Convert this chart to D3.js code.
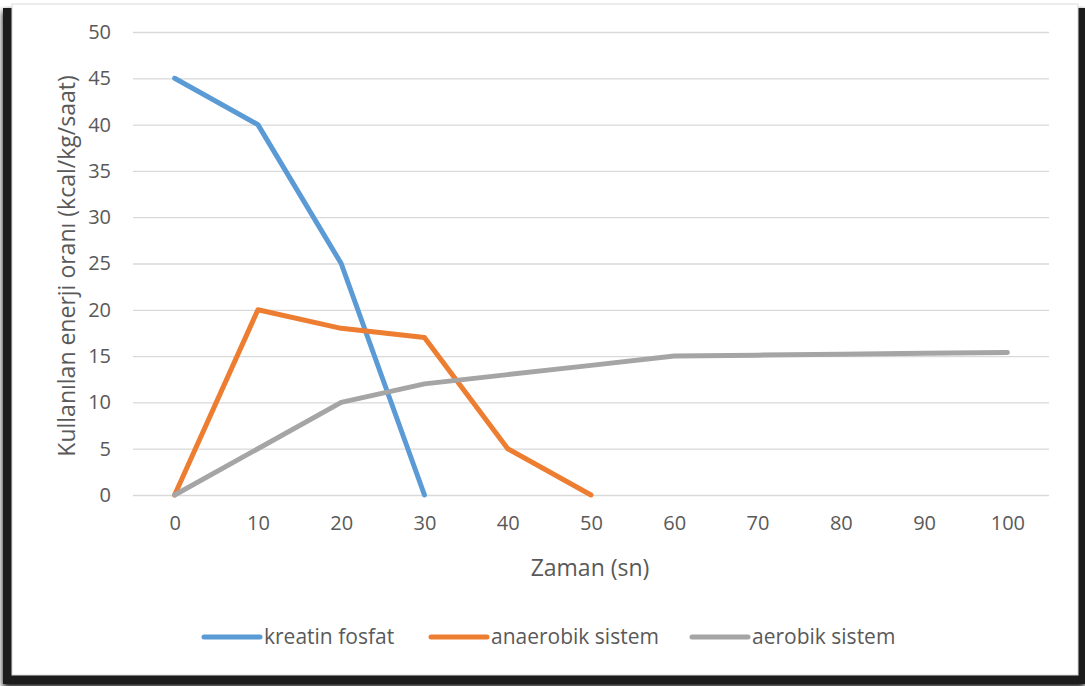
<!DOCTYPE html>
<html>
<head>
<meta charset="utf-8">
<script src="https://cdn.jsdelivr.net/npm/d3@7"></script>
<style>
  html, body { margin: 0; padding: 0; background: #ffffff; }
  svg { display: block; }
  text { font-family: "Open Sans", Lato, sans-serif; fill: #595959; }
</style>
</head>
<body>
<svg id="chart" width="1085" height="686"></svg>
<script>
// Time points (seconds) on the x axis
const categories = ["0", "10", "20", "30", "40", "50", "60", "70", "80", "90", "100"];

// Energy usage rate per system (kcal/kg/saat)
const kreatinFosfat = [45, 40, 25, 0];
const anaerobikSistem = [0, 20, 18, 17, 5, 0];
const aerobikSistem = [0, 5, 10, 12, 13, 14, 15, 15.1, 15.2, 15.3, 15.4];

const yTicks = [0, 5, 10, 15, 20, 25, 30, 35, 40, 45, 50];

const seriesNames = ["kreatin fosfat", "anaerobik sistem", "aerobik sistem"];
const seriesColors = ["#5B9BD5", "#ED7D31", "#A5A5A5"];
const seriesValues = [kreatinFosfat, anaerobikSistem, aerobikSistem];

const FONT = "'Open Sans', Lato, sans-serif";
const svg = d3.select("#chart");

// Card with drop shadow
const defs = svg.append("defs");
const f = defs.append("filter").attr("id", "shadow")
  .attr("x", "-5%").attr("y", "-5%").attr("width", "110%").attr("height", "112%");
f.append("feGaussianBlur").attr("in", "SourceAlpha").attr("stdDeviation", 3).attr("result", "b");
f.append("feOffset").attr("in", "b").attr("dx", 0).attr("dy", 3).attr("result", "o");
const m = f.append("feMerge");
m.append("feMergeNode").attr("in", "o");
m.append("feMergeNode").attr("in", "SourceGraphic");

svg.append("rect").attr("x", 3).attr("y", 8).attr("width", 1082).attr("height", 676)
  .attr("fill", "#1a1a1a").attr("filter", "url(#shadow)");
svg.append("rect").attr("x", 0).attr("y", 0).attr("width", 1085).attr("height", 6).attr("fill", "#ffffff");
svg.append("rect").attr("x", 12).attr("y", 4).attr("width", 1066).attr("height", 671)
  .attr("fill", "#ffffff").attr("stroke", "#d9d9d9").attr("stroke-width", 1);

// Plot area
const plot = { left: 133, right: 1049, top: 32, bottom: 495 };

const x = d3.scalePoint().domain(categories).range([plot.left, plot.right]).padding(0.5);
const y = d3.scaleLinear().domain([0, 50]).range([plot.bottom, plot.top]);

// Horizontal gridlines and y labels
const yAxis = d3.axisLeft(y).tickValues(yTicks).tickSize(-(plot.right - plot.left)).tickPadding(22);
const gy = svg.append("g").attr("transform", `translate(${plot.left},0)`).call(yAxis);
gy.select(".domain").remove();
gy.selectAll(".tick line").attr("stroke", "#d9d9d9").attr("stroke-width", 1.3);
gy.selectAll(".tick text").attr("font-size", 20).attr("fill", "#595959")
  .style("font-family", FONT);

// X axis labels
const xAxis = d3.axisBottom(x).tickSize(0).tickPadding(21);
const gx = svg.append("g").attr("transform", `translate(0,${plot.bottom})`).call(xAxis);
gx.select(".domain").remove();
gx.selectAll(".tick text").attr("font-size", 20).attr("fill", "#595959")
  .style("font-family", FONT);

// Series lines
const line = d3.line()
  .x((d, i) => x(categories[i]))
  .y(d => y(d));

seriesValues.forEach((vals, k) => {
  svg.append("path")
    .datum(vals)
    .attr("d", line)
    .attr("fill", "none")
    .attr("stroke", seriesColors[k])
    .attr("stroke-width", 5)
    .attr("stroke-linejoin", "round")
    .attr("stroke-linecap", "round");
});

// Axis titles
svg.append("text")
  .attr("x", 590)
  .attr("y", 576)
  .attr("text-anchor", "middle")
  .attr("font-size", 23)
  .text("Zaman (sn)");

svg.append("text")
  .attr("transform", `translate(75,${266}) rotate(-90)`)
  .attr("text-anchor", "middle")
  .attr("font-size", 23)
  .text("Kullanılan enerji oranı (kcal/kg/saat)");

// Legend
const legendX = [204, 431, 692];
const legendY = 637;
seriesNames.forEach((name, k) => {
  const g = svg.append("g").attr("transform", `translate(${legendX[k]},${legendY})`);
  g.append("line").attr("x1", 0).attr("x2", 56).attr("y1", 0).attr("y2", 0)
    .attr("stroke", seriesColors[k]).attr("stroke-width", 5).attr("stroke-linecap", "round");
  g.append("text").attr("x", 60).attr("y", 7).attr("font-size", 21).text(name);
});
</script>
</body>
</html>
